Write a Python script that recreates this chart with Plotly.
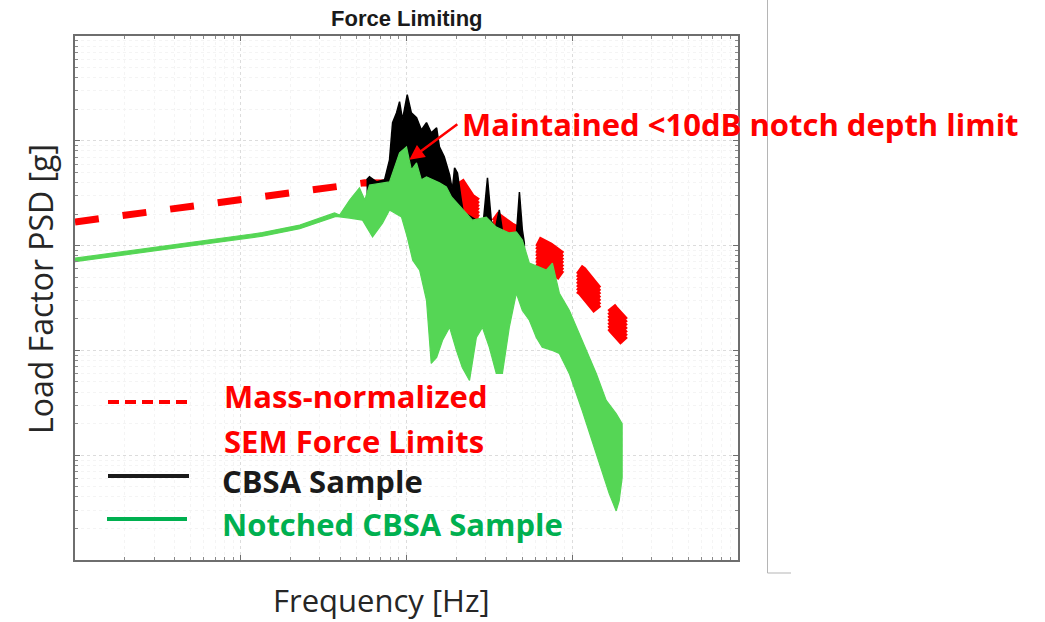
import math
import plotly.graph_objects as go

# ---------------- data ----------------
# Mass-normalized SEM force limits: low-frequency (plateau) part
fl_low_freq = [1, 55.8, 195]
fl_low_val = [0.168, 0.397, 0.388]
# Roll-off part: a bundle of closely spaced limit curves
fl_roll_freq = [110, 195, 243, 423, 727, 1148, 1766, 2056]
fl_roll_1 = [0.486, 0.483, 0.285, 0.151, 0.0967, 0.0569, 0.0247, 0.0189]
fl_roll_2 = [0.452, 0.449, 0.265, 0.140, 0.0899, 0.0529, 0.0229, 0.0176]
fl_roll_3 = [0.420, 0.417, 0.246, 0.130, 0.0835, 0.0492, 0.0213, 0.0164]
fl_roll_4 = [0.39, 0.388, 0.229, 0.121, 0.0776, 0.0457, 0.0198, 0.0152]
fl_roll_5 = [0.362, 0.360, 0.213, 0.112, 0.0721, 0.0425, 0.0184, 0.0141]
fl_roll_6 = [0.337, 0.335, 0.198, 0.105, 0.0670, 0.0395, 0.0171, 0.0131]
fl_roll_7 = [0.313, 0.311, 0.184, 0.0971, 0.0623, 0.0367, 0.0159, 0.0122]

# CBSA sample: upper envelope of the black response
cbsa_up_f = [57.4, 59.8, 65.9, 73.7, 79, 82.4, 87.1, 90.8, 94.6, 101, 107, 115, 123,
             132, 141, 152, 158, 169, 182, 189, 195, 203, 214, 220, 275, 291, 308,
             325, 344, 363, 379, 417, 448, 460, 480, 500, 514]
cbsa_up_v = [0.424, 0.453, 0.405, 0.424, 0.658, 1.49, 1.85, 2.36, 1.59, 2.75, 1.85,
             1.66, 1.27, 1.49, 1.19, 1.33, 0.877, 0.703, 0.473, 0.340, 0.552, 0.494,
             0.272, 0.209, 0.168, 0.171, 0.443, 0.171, 0.147, 0.219, 0.138, 0.123,
             0.126, 0.126, 0.325, 0.141, 0.106]
# CBSA sample: lower edge (hidden under the notched response)
cbsa_lo_f = [514, 365, 240, 182, 90.8, 57.4]
cbsa_lo_v = [0.0906, 0.12, 0.147, 0.244, 0.304, 0.30]

# Notched CBSA sample: upper envelope (left to right)
notch_up_f = [1, 5.66, 13.5, 22.7, 36.8, 39.5, 45.4, 52, 56, 59.8, 79, 90.8, 100, 107,
              115, 123, 132, 158, 174, 187, 250, 303, 348, 417, 460, 500, 551, 632,
              697, 759, 836, 959, 1148, 1396, 1603, 1841, 2000]
notch_up_v = [0.0759, 0.110, 0.133, 0.157, 0.205, 0.196, 0.272, 0.355, 0.272, 0.379,
              0.405, 0.768, 0.877, 0.527, 0.615, 0.424, 0.453, 0.397, 0.363, 0.291,
              0.175, 0.187, 0.150, 0.132, 0.135, 0.113, 0.0681, 0.0623, 0.0583,
              0.0681, 0.0351, 0.0241, 0.0125, 0.00603, 0.00333, 0.00249, 0.0020]
# Notched CBSA sample: lower envelope (right to left)
notch_lo_f = [2000, 1919, 1841, 1671, 1396, 1148, 959, 836, 759, 659, 607, 551, 500,
              460, 417, 379, 348, 316, 287, 264, 240, 217, 200, 182, 165, 152, 141,
              132, 120, 109, 101, 93.3, 79, 71.7, 62.4, 57.4, 54.3, 45.4, 37.5, 22.7,
              13.5, 5.66, 1]
notch_lo_v = [0.00061, 0.000367, 0.000294, 0.00043, 0.00103, 0.00267, 0.00603,
              0.00935, 0.01, 0.0107, 0.0133, 0.0194, 0.0241, 0.0351, 0.0166, 0.00603,
              0.00603, 0.0107, 0.0166, 0.0133, 0.00517, 0.00688, 0.01, 0.0166,
              0.0125, 0.00857, 0.00751, 0.0301, 0.0583, 0.0726, 0.121, 0.187, 0.219,
              0.164, 0.121, 0.150, 0.175, 0.183, 0.19, 0.145, 0.123, 0.102, 0.0703]

arrow_tip = (104, 0.658)   # (Hz, g) point the annotation arrow points to

RED = "#FF0000"
BLACK = "#000000"
GREEN_DATA = "#55D655"
GREEN_TEXT = "#00B050"

fig = go.Figure()

fig.add_trace(go.Scatter(x=fl_low_freq, y=fl_low_val, mode="lines",
                         line=dict(color=RED, width=7, dash="24px,24px"),
                         hoverinfo="skip", showlegend=False))
for vals in (fl_roll_1, fl_roll_2, fl_roll_3, fl_roll_4, fl_roll_5, fl_roll_6, fl_roll_7):
    fig.add_trace(go.Scatter(x=fl_roll_freq, y=vals, mode="lines",
                             line=dict(color=RED, width=10, dash="28px,22px"),
                             hoverinfo="skip", showlegend=False))

fig.add_trace(go.Scatter(x=cbsa_up_f + cbsa_lo_f, y=cbsa_up_v + cbsa_lo_v,
                         mode="lines", fill="toself", fillcolor=BLACK,
                         line=dict(color=BLACK, width=1.5),
                         hoverinfo="skip", showlegend=False))

fig.add_trace(go.Scatter(x=notch_up_f + notch_lo_f, y=notch_up_v + notch_lo_v,
                         mode="lines", fill="toself", fillcolor=GREEN_DATA,
                         line=dict(color=GREEN_DATA, width=1.2),
                         hoverinfo="skip", showlegend=False))

axis_common = dict(
    type="log", dtick=1, showticklabels=False,
    showline=True, linecolor="#6e6e6e", linewidth=1.6, mirror="allticks",
    ticks="inside", ticklen=5, tickcolor="#6e6e6e", tickwidth=1,
    showgrid=True, gridcolor="#dcdcdc", griddash="dot", gridwidth=1,
    zeroline=False,
    minor=dict(ticks="inside", ticklen=3, tickcolor="#8a8a8a", dtick="D1",
               showgrid=True, gridcolor="#f4f4f4", griddash="dot"),
)

fig.update_layout(
    width=1045, height=622,
    margin=dict(l=75, r=307, t=36, b=62),
    paper_bgcolor="white", plot_bgcolor="white",
    showlegend=False,
    xaxis=dict(range=[0, 4], **axis_common),
    yaxis=dict(range=[-4, 1], **axis_common),
)

def px2paper_x(px):
    return (px - 75) / 663.0

def px2paper_y(py):
    return (560 - py) / 524.0

annotations = [
    dict(text="<b>Force Limiting</b>", x=px2paper_x(407), y=px2paper_y(18),
         xref="paper", yref="paper", showarrow=False, xanchor="center", yanchor="middle",
         font=dict(family="Liberation Sans, Arial", size=22, color="#1a1a1a")),
    dict(text="Frequency [Hz]", x=px2paper_x(381), y=px2paper_y(600),
         xref="paper", yref="paper", showarrow=False, xanchor="center", yanchor="middle",
         font=dict(family="Open Sans", size=31, color="#262626")),
    dict(text="Load Factor PSD [g]", x=px2paper_x(40), y=px2paper_y(289),
         xref="paper", yref="paper", showarrow=False, xanchor="center", yanchor="middle",
         textangle=-90,
         font=dict(family="Open Sans", size=32, color="#262626")),
    dict(text="<b>Maintained <10dB notch depth limit</b>", x=px2paper_x(460),
         y=px2paper_y(124), xref="paper", yref="paper", showarrow=False,
         xanchor="left", yanchor="middle",
         font=dict(family="Open Sans", size=31, color=RED)),
    # arrow (log axes: annotation positions are given in log10 units)
    dict(text=" ", x=math.log10(arrow_tip[0]), y=math.log10(arrow_tip[1]),
         xref="x", yref="y",
         showarrow=True, ax=50, ay=-37, axref="pixel", ayref="pixel",
         font=dict(size=2, color=RED),
         arrowcolor=RED, arrowwidth=2.5, arrowhead=2, arrowsize=1.2, standoff=0),
    dict(text="<b>Mass-normalized</b>", x=px2paper_x(222), y=px2paper_y(396),
         xref="paper", yref="paper", showarrow=False, xanchor="left", yanchor="middle",
         font=dict(family="Open Sans", size=31, color=RED)),
    dict(text="<b>SEM Force Limits</b>", x=px2paper_x(222), y=px2paper_y(441),
         xref="paper", yref="paper", showarrow=False, xanchor="left", yanchor="middle",
         font=dict(family="Open Sans", size=31, color=RED)),
    dict(text="<b>CBSA Sample</b>", x=px2paper_x(220), y=px2paper_y(481),
         xref="paper", yref="paper", showarrow=False, xanchor="left", yanchor="middle",
         font=dict(family="Open Sans", size=31, color="#1a1a1a")),
    dict(text="<b>Notched CBSA Sample</b>", x=px2paper_x(220), y=px2paper_y(524),
         xref="paper", yref="paper", showarrow=False, xanchor="left", yanchor="middle",
         font=dict(family="Open Sans", size=31, color=GREEN_TEXT)),
]
fig.update_layout(annotations=annotations)

shapes = [
    # legend keys
    dict(type="line", xref="paper", yref="paper", x0=px2paper_x(108), x1=px2paper_x(190),
         y0=px2paper_y(402), y1=px2paper_y(402),
         line=dict(color=RED, width=4, dash="11px,6px")),
    dict(type="line", xref="paper", yref="paper", x0=px2paper_x(108), x1=px2paper_x(189),
         y0=px2paper_y(476), y1=px2paper_y(476), line=dict(color="#1a1a1a", width=4)),
    dict(type="line", xref="paper", yref="paper", x0=px2paper_x(107), x1=px2paper_x(187),
         y0=px2paper_y(519), y1=px2paper_y(519), line=dict(color=GREEN_TEXT, width=4)),
    # slide separator line on the right
    dict(type="line", xref="paper", yref="paper", x0=px2paper_x(767.5), x1=px2paper_x(767.5),
         y0=px2paper_y(0), y1=px2paper_y(573), line=dict(color="#b5b5b5", width=1)),
    dict(type="line", xref="paper", yref="paper", x0=px2paper_x(767.5), x1=px2paper_x(791),
         y0=px2paper_y(573), y1=px2paper_y(573), line=dict(color="#b5b5b5", width=1)),
]
fig.update_layout(shapes=shapes)

fig.write_html("out.html")
